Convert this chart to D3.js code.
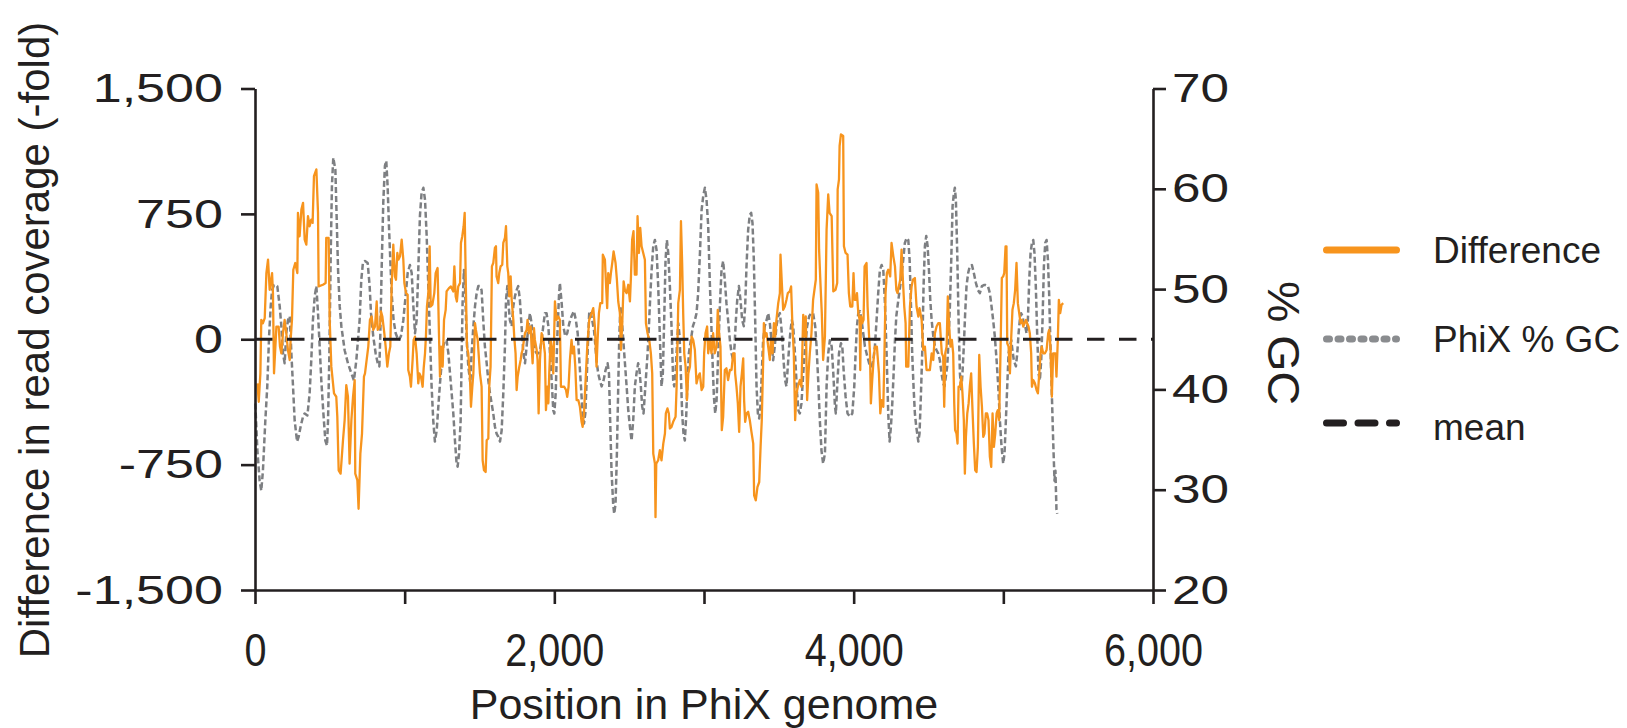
<!DOCTYPE html>
<html lang="en">
<head>
<meta charset="UTF-8">
<title>PhiX read coverage difference and GC</title>
<script src="https://d3js.org/d3.v7.min.js"></script>
<style>
  body { margin:0; background:#fff; }
  svg text { font-family:"Liberation Sans", Arial, Helvetica, sans-serif; fill:#231f20; }
</style>
</head>
<body>
<script>
// difference in read coverage: [position, fold difference]
var diffData = [
[16,-264],[25,-374],[36,-204],[42,116],[53,96],[65,126],[76,396],[87,476],[98,296],[114,396],[120,276],[127,-204],[143,76],[158,76],[167,-44],[176,-84],[187,36],[198,116],[209,36],[220,-64],[232,-124],[238,-4],[247,116],[256,416],[269,456],[283,396],[287,756],[298,616],[310,776],[321,816],[332,596],[343,566],[354,736],[365,676],[376,716],[385,696],[394,976],[410,1016],[421,756],[425,316],[454,326],[472,336],[476,606],[492,606],[499,116],[510,-164],[528,-324],[543,-344],[550,-464],[559,-784],[572,-804],[588,-604],[599,-484],[610,-274],[621,-344],[632,-744],[644,-484],[655,-344],[666,-244],[670,-804],[684,-844],[692,-1014],[704,-684],[715,-564],[728,-224],[735,-204],
[746,-124],[757,-44],[768,116],[779,136],[790,56],[802,76],[813,226],[820,56],[835,76],[842,166],[851,136],[864,36],[873,-44],[884,-164],[895,-84],[904,-44],[913,316],[924,566],[935,376],[942,356],[951,516],[958,476],[969,496],[980,596],[991,476],[998,336],[1009,276],[1020,266],[1024,-184],[1035,-224],[1042,-284],[1053,-124],[1060,-4],[1069,16],[1080,-84],[1091,-264],[1098,-204],[1109,-224],[1120,-284],[1127,-174],[1136,-84],[1142,16],[1149,196],[1158,276],[1167,556],[1174,196],[1185,206],[1198,276],[1207,396],[1220,426],[1229,36],[1236,-224],[1243,-44],[1254,-164],[1263,116],[1274,176],[1280,286],[1296,306],[1309,316],[1325,286],[1332,436],[1341,256],[1349,226],[1358,316],[1370,336],[1376,576],[1385,616],[1394,676],[1401,756],[1407,416],[1416,-44],[1425,-84],[1436,-224],[1443,-404],[1452,-284],[1459,-204],[1470,96],[1476,56],[1488,-4],
[1503,-204],[1514,-284],[1521,-724],[1530,-784],[1541,-794],[1548,-604],[1559,-594],[1565,-284],[1574,-164],[1583,436],[1592,456],[1603,546],[1610,556],[1614,376],[1625,336],[1632,396],[1641,436],[1652,446],[1659,576],[1670,606],[1677,676],[1686,436],[1692,396],[1699,256],[1708,376],[1715,236],[1726,116],[1732,16],[1741,-84],[1748,-304],[1755,-224],[1766,-164],[1775,-124],[1781,-84],[1788,-64],[1797,-4],[1804,36],[1815,56],[1821,116],[1830,36],[1842,76],[1848,-44],[1855,-144],[1864,66],[1870,-4],[1882,-64],[1888,-124],[1895,-444],[1904,-124],[1915,36],[1926,-4],[1937,-84],[1944,-424],[1953,-284],[1960,-384],[1966,-204],[1975,-4],[1982,-44],[1993,-204],[2004,226],[2015,116],[2026,136],[2037,116],[2044,-284],[2055,-284],[2066,-284],[2078,-304],[2086,-344],[2095,-284],[2104,-124],[2115,-4],[2122,-84],[2131,-44],[2140,-164],[2149,-364],[2160,-364],[2171,-404],[2182,-494],[2189,-524],[2198,-444],[2209,-244],[2220,-44],[2233,116],[2249,156],[2260,186],
[2271,76],[2282,-164],[2289,-4],[2298,156],[2307,216],[2320,216],[2324,506],[2338,476],[2344,356],[2353,186],[2360,396],[2371,336],[2378,396],[2387,456],[2396,526],[2409,456],[2418,356],[2427,226],[2438,156],[2445,-64],[2454,96],[2463,346],[2471,296],[2483,276],[2494,326],[2505,226],[2512,376],[2520,596],[2529,646],[2538,386],[2549,386],[2556,736],[2565,516],[2574,666],[2583,556],[2594,516],[2605,476],[2612,96],[2623,36],[2634,-4],[2645,-84],[2654,-204],[2661,-684],[2672,-744],[2676,-1064],[2681,-744],[2694,-724],[2705,-664],[2716,-724],[2728,-624],[2739,-564],[2745,-444],[2756,-414],[2765,-444],[2772,-534],[2783,-524],[2794,-494],[2810,-464],[2817,-284],[2828,216],[2839,296],[2846,706],[2854,456],[2861,156],[2868,-84],[2877,-164],[2886,-364],[2895,-204],[2906,-164],[2917,16],[2928,-4],[2939,-64],[2950,-264],[2961,-224],[2972,-204],[2984,-304],[2995,-284],[3001,-84],[3010,36],[3021,76],[3028,-84],
[3039,-4],[3050,-84],[3061,36],[3072,-84],[3084,-44],[3092,176],[3101,36],[3110,-44],[3119,-544],[3128,-464],[3139,-184],[3150,-174],[3161,-244],[3173,-184],[3184,-184],[3195,-84],[3204,-84],[3208,-204],[3217,-284],[3226,-384],[3235,-554],[3244,-284],[3253,-204],[3262,-114],[3268,-364],[3275,-494],[3284,-444],[3295,-434],[3306,-484],[3317,-554],[3329,-624],[3335,-934],[3346,-964],[3357,-884],[3369,-854],[3378,-644],[3386,-484],[3395,-144],[3400,96],[3409,16],[3418,36],[3429,-44],[3440,-124],[3447,-4],[3458,-84],[3467,96],[3476,16],[3484,116],[3496,216],[3507,276],[3511,506],[3520,336],[3529,176],[3540,196],[3551,236],[3560,276],[3573,286],[3582,316],[3591,76],[3600,-84],[3609,-484],[3618,-324],[3627,-284],[3640,-244],[3651,-284],[3663,146],[3674,16],[3680,136],[3689,-364],[3698,-204],[3707,-84],[3718,36],[3729,236],[3738,296],[3747,356],[3752,926],[3763,876],[3769,536],[3778,336],[3787,156],[3796,-124],
[3808,16],[3819,656],[3830,866],[3839,756],[3853,736],[3864,286],[3879,296],[3890,336],[3893,896],[3902,956],[3906,1156],[3915,1226],[3930,1216],[3935,556],[3946,516],[3959,506],[3968,276],[3977,196],[3991,196],[3999,396],[4006,236],[4015,236],[4022,276],[4031,156],[4040,116],[4044,-184],[4049,136],[4057,96],[4066,116],[4073,436],[4086,456],[4093,196],[4102,36],[4109,-84],[4115,-384],[4124,-244],[4133,-124],[4142,-44],[4155,-44],[4169,-204],[4178,-444],[4187,-364],[4198,-404],[4204,-164],[4213,276],[4222,396],[4231,416],[4244,376],[4253,576],[4265,496],[4276,436],[4285,296],[4293,276],[4302,316],[4311,356],[4320,536],[4329,356],[4338,196],[4347,96],[4351,-164],[4365,-164],[4376,196],[4387,316],[4396,356],[4409,366],[4420,196],[4432,136],[4440,186],[4454,116],[4465,-64],[4476,-44],[4487,-184],[4498,-184],[4509,-184],[4521,-84],[4532,-124],[4543,36],[4554,76],[4565,96],
[4576,96],[4583,-4],[4589,-84],[4598,-104],[4605,-404],[4612,-84],[4621,-44],[4629,256],[4638,76],[4647,-44],[4656,-4],[4665,-84],[4672,-384],[4678,-544],[4687,-564],[4694,-624],[4701,-284],[4710,-284],[4719,-224],[4727,-324],[4736,-484],[4743,-804],[4750,-584],[4759,-444],[4768,-384],[4776,-284],[4785,-204],[4794,-424],[4803,-624],[4812,-784],[4821,-794],[4830,-644],[4839,-94],[4848,-284],[4857,-404],[4866,-584],[4874,-564],[4883,-444],[4892,-444],[4901,-484],[4910,-704],[4919,-764],[4928,-444],[4937,-644],[4946,-564],[4955,-444],[4963,-424],[4972,-484],[4981,-84],[4990,366],[4999,376],[5006,396],[5015,556],[5021,556],[5026,-24],[5035,-44],[5044,-204],[5053,16],[5061,176],[5070,216],[5079,296],[5088,456],[5097,216],[5106,156],[5115,96],[5124,116],[5133,76],[5142,96],[5151,116],[5159,96],[5168,76],[5177,36],[5186,-84],[5191,-284],[5200,-244],[5211,-264],[5222,-304],[5231,-324],[5240,-204],[5249,-84],[5257,-44],[5266,-84],[5278,-84],[5289,-64],[5300,36],[5306,56],[5315,-44],[5324,-344],[5333,-84],[5344,-84],
[5348,-84],[5355,-224],[5364,-4],[5371,236],[5380,156],[5389,206],[5400,216]
];

// PhiX % GC: [position, percent]
var gcData = [
[2,38.6],[16,33.9],[31,30.9],[42,29.9],[53,31.9],[69,36.9],[82,40.3],[94,45.3],[105,48.3],[114,49.9],[127,50.4],[149,50.3],[165,48.3],[176,46.3],[187,43.6],[198,42.6],[209,45.6],[220,46.9],[232,47.3],[243,43.6],[254,40.3],[265,36.9],[281,34.8],[292,35.3],[305,36.3],[321,37.3],[332,37.6],[350,37.4],[365,39.6],[376,42.9],[387,46.9],[399,49.3],[410,50.3],[421,47.6],[432,44.3],[443,40.9],[457,37.6],[470,34.9],[481,34.4],[488,36.9],[497,43.6],[506,53.6],[514,60.3],[523,63.1],[537,61.9],[546,56.9],[555,51.9],[566,48.3],[577,46.3],[599,43.9],[621,42.6],[644,41.6],[661,40.9],[677,42.9],[699,46.9],[710,50.9],[721,52.6],
[735,52.8],[753,52.6],[766,50.3],[775,47.6],[790,45.3],[806,43.6],[820,42.6],[831,42.3],[837,45.3],[846,51.9],[857,58.6],[868,62.3],[877,62.8],[886,60.3],[895,56.3],[904,52.9],[913,49.6],[926,46.9],[940,45.6],[958,44.9],[975,45.3],[991,46.9],[1006,49.3],[1020,51.6],[1035,52.4],[1047,51.6],[1058,48.3],[1069,45.6],[1080,46.9],[1091,51.9],[1102,57.3],[1113,59.6],[1125,60.1],[1136,58.9],[1147,55.3],[1158,50.3],[1169,45.3],[1180,40.3],[1191,36.9],[1202,34.8],[1214,35.9],[1225,38.3],[1236,40.6],[1247,42.6],[1258,44.3],[1269,44.9],[1280,44.9],[1292,43.6],[1303,41.6],[1314,39.6],[1325,37.6],[1336,34.9],[1347,32.6],[1354,32.3],[1363,33.6],[1374,36.9],[1381,43.6],[1387,48.6],[1396,51.9],[1403,50.3],[1414,45.3],[1425,42.3],[1439,40.6],[1447,43.6],[1459,46.3],[1470,48.3],[1481,49.6],[1492,50.3],
[1503,50.3],[1514,49.9],[1525,46.9],[1536,44.3],[1548,42.6],[1559,40.9],[1570,39.6],[1581,38.6],[1592,37.6],[1603,36.3],[1614,35.6],[1625,35.3],[1637,34.8],[1648,35.9],[1659,39.6],[1670,44.3],[1677,48.9],[1686,50.3],[1695,48.3],[1703,46.9],[1715,46.3],[1726,48.3],[1737,49.3],[1748,49.9],[1759,50.3],[1770,48.9],[1781,46.3],[1793,43.6],[1804,42.6],[1815,44.3],[1826,46.3],[1837,47.6],[1848,46.6],[1859,44.9],[1870,43.9],[1882,43.6],[1893,43.6],[1904,43.9],[1915,44.9],[1926,46.3],[1937,47.6],[1948,47.6],[1960,46.3],[1971,43.6],[1982,40.9],[1993,37.9],[2000,37.6],[2009,39.6],[2020,45.3],[2031,49.3],[2037,50.6],[2049,48.6],[2060,46.3],[2073,45.3],[2086,45.6],[2100,46.6],[2115,47.3],[2131,47.8],[2144,46.9],[2156,45.6],[2167,42.9],[2178,40.3],[2189,37.6],[2198,36.6],[2207,37.6],[2216,40.9],[2227,45.6],[2233,47.6],[2242,47.8],[2253,46.9],[2265,45.9],
[2271,44.9],[2282,42.9],[2293,41.6],[2304,40.9],[2316,40.3],[2329,40.9],[2342,41.9],[2356,42.6],[2365,41.6],[2373,36.9],[2382,31.9],[2393,28.6],[2400,27.6],[2409,28.6],[2418,33.6],[2427,40.3],[2434,45.3],[2442,48.3],[2454,46.3],[2467,43.6],[2483,40.3],[2494,37.9],[2505,36.3],[2516,34.9],[2527,36.9],[2538,40.3],[2549,41.6],[2560,42.6],[2569,41.9],[2578,40.3],[2587,38.3],[2596,37.6],[2605,39.6],[2614,41.6],[2623,43.6],[2632,46.3],[2641,49.3],[2650,51.9],[2661,54.3],[2672,54.9],[2683,53.9],[2694,50.3],[2705,45.3],[2716,40.3],[2725,41.6],[2734,46.9],[2743,52.9],[2752,54.9],[2761,53.6],[2772,50.3],[2783,46.3],[2794,40.9],[2801,40.3],[2810,41.6],[2819,44.3],[2828,46.6],[2837,45.3],[2846,41.3],[2854,37.6],[2863,35.6],[2872,34.9],[2881,37.3],[2890,40.9],[2899,43.6],[2912,44.9],[2926,46.3],[2939,46.9],[2950,47.6],[2961,49.6],[2973,53.6],[2984,57.9],[2995,59.3],[3006,60.1],[3017,58.9],[3028,56.3],
[3039,50.6],[3048,46.9],[3057,42.9],[3066,39.3],[3075,37.6],[3084,38.9],[3095,43.6],[3106,48.3],[3117,51.9],[3128,52.8],[3139,50.9],[3150,48.6],[3161,46.9],[3173,44.9],[3184,43.6],[3195,42.9],[3204,44.3],[3213,46.9],[3222,48.9],[3233,50.3],[3244,48.9],[3255,46.9],[3266,46.3],[3275,48.3],[3284,52.3],[3295,55.9],[3306,57.4],[3315,57.6],[3324,56.6],[3333,52.9],[3342,46.9],[3351,40.3],[3360,37.6],[3369,37.1],[3378,38.6],[3386,41.6],[3395,44.9],[3406,46.3],[3418,46.9],[3429,47.6],[3440,46.6],[3451,44.9],[3462,42.9],[3473,44.3],[3484,46.3],[3496,47.3],[3507,47.6],[3516,46.3],[3524,44.9],[3533,42.6],[3542,40.9],[3551,40.3],[3560,42.3],[3569,44.3],[3578,45.9],[3587,46.9],[3596,46.3],[3605,44.3],[3614,41.9],[3622,39.6],[3631,37.9],[3640,37.6],[3651,38.6],[3663,41.6],[3676,44.3],[3689,46.3],[3703,47.3],[3716,47.6],[3729,47.6],[3743,46.3],[3752,44.3],[3763,40.9],[3774,36.9],[3785,33.9],[3796,32.6],
[3808,33.6],[3819,40.3],[3830,43.6],[3841,44.9],[3853,44.3],[3864,41.6],[3875,38.3],[3881,37.6],[3890,40.3],[3902,43.6],[3915,44.6],[3924,44.3],[3933,41.9],[3946,39.3],[3959,37.6],[3975,37.3],[3991,37.6],[4004,40.3],[4013,43.6],[4022,46.3],[4031,47.6],[4042,47.8],[4053,46.9],[4064,45.6],[4075,44.3],[4086,43.6],[4098,42.9],[4109,42.3],[4120,42.3],[4131,42.9],[4142,44.3],[4153,46.9],[4164,49.6],[4175,51.9],[4187,52.4],[4198,51.9],[4209,48.6],[4220,43.6],[4231,37.6],[4240,34.8],[4249,36.3],[4258,38.6],[4267,41.6],[4276,44.9],[4285,47.3],[4293,48.3],[4302,49.3],[4316,50.9],[4331,52.9],[4342,54.6],[4354,55.1],[4365,54.9],[4374,52.9],[4383,48.3],[4391,43.6],[4400,40.3],[4409,37.6],[4418,36.3],[4432,34.8],[4440,35.6],[4449,39.3],[4458,43.6],[4467,50.3],[4476,54.3],[4485,55.3],[4494,54.3],[4503,51.9],[4512,48.9],[4521,46.9],[4532,45.3],[4543,44.3],[4554,43.9],[4565,43.6],
[4576,42.9],[4587,41.6],[4598,40.6],[4607,40.3],[4616,41.3],[4625,42.3],[4634,44.9],[4643,48.3],[4652,52.9],[4661,58.3],[4670,59.6],[4676,60.1],[4683,58.9],[4692,53.6],[4701,46.9],[4710,41.6],[4719,39.9],[4727,41.6],[4736,44.3],[4745,47.6],[4754,50.3],[4765,51.6],[4776,52.3],[4790,52.4],[4803,51.6],[4817,50.6],[4830,49.9],[4843,49.6],[4857,50.3],[4870,50.4],[4883,50.4],[4897,50.3],[4910,49.6],[4921,48.3],[4932,46.9],[4943,45.3],[4955,42.9],[4966,40.3],[4977,36.9],[4988,34.3],[4999,32.6],[5008,33.6],[5017,36.9],[5026,40.3],[5035,43.6],[5044,44.3],[5053,44.9],[5061,43.9],[5070,42.9],[5084,42.3],[5093,43.6],[5102,45.6],[5110,46.9],[5119,47.6],[5128,47.3],[5137,46.6],[5146,46.3],[5155,45.6],[5164,46.9],[5173,50.9],[5182,53.6],[5191,54.6],[5200,54.9],[5208,53.6],[5217,50.3],[5226,45.6],[5235,41.6],[5244,40.9],[5253,42.9],[5262,46.9],[5271,52.3],[5280,54.6],[5289,54.9],[5298,52.9],[5306,49.6],[5315,44.3],[5324,39.6],[5333,34.9],[5342,30.9],
[5348,31.9],[5355,28.0],[5360,27.6]
];

var meanValue = 0;
var xTicks = [0,1000,2000,3000,4000,5000,6000];
var xLabelled = [0,2000,4000,6000];
var yLeftTicks = [-1500,-750,0,750,1500];
var yRightTicks = [20,30,40,50,60,70];
var legendItems = ["Difference","PhiX % GC","mean"];

var width = 1627, height = 728;
var ink = "#231f20", orange = "#f7941d", grey = "#808285";

var svg = d3.select("body").append("svg")
            .attr("width",width).attr("height",height)
            .style("background","#fff");

var xScale = d3.scaleLinear().domain([0,6000]).range([255,1153]);
var yLeft = d3.scaleLinear().domain([-1500,1500]).range([590,88.5]);
var yRight = d3.scaleLinear().domain([20,70]).range([590,88.5]);

var fmt = function(d){ return d3.format(",")(d).replace("\u2212","-"); };

// rescale text horizontally by a factor (reference digits are wider / narrower than Arial)
function widen(sel, k){
    sel.each(function(){
        var len = this.getComputedTextLength();
        if(len > 0) d3.select(this).attr("textLength", len*k).attr("lengthAdjust","spacingAndGlyphs");
    });
}

function styleAxis(g){
    g.select(".domain").attr("stroke",ink).attr("stroke-width",2.6);
    g.selectAll(".tick line").attr("stroke",ink).attr("stroke-width",2.6);
    g.selectAll(".tick text").attr("fill",ink).style("font-family","'Liberation Sans', Arial, sans-serif");
}

// series
var gcLine = d3.line().x(function(d){return xScale(d[0]);}).y(function(d){return yRight(d[1]);});
var diffLine = d3.line().x(function(d){return xScale(d[0]);}).y(function(d){return yLeft(d[1]);});

svg.append("path").attr("d",gcLine(gcData))
   .attr("fill","none").attr("stroke","#7d7f82").attr("stroke-width",2.5)
   .attr("stroke-dasharray","6,3").attr("stroke-linejoin","round");

svg.append("path").attr("d",diffLine(diffData))
   .attr("fill","none").attr("stroke",orange).attr("stroke-width",2.3)
   .attr("stroke-linejoin","round");

svg.append("line")
   .attr("x1",xScale(0)).attr("x2",xScale(6000))
   .attr("y1",yLeft(meanValue)).attr("y2",yLeft(meanValue))
   .attr("stroke",ink).attr("stroke-width",3).attr("stroke-dasharray","17.5,14.5");

// axes
var xAxis = d3.axisBottom(xScale).tickValues(xTicks).tickSize(14).tickSizeOuter(0).tickPadding(29)
              .tickFormat(function(d){ return xLabelled.indexOf(d) >= 0 ? fmt(d) : ""; });
var yAxisL = d3.axisLeft(yLeft).tickValues(yLeftTicks).tickSize(14).tickSizeOuter(0).tickPadding(18).tickFormat(fmt);
var yAxisR = d3.axisRight(yRight).tickValues(yRightTicks).tickSize(13).tickSizeOuter(0).tickPadding(6);

var gx = svg.append("g").attr("transform","translate(0,590)").call(xAxis);
var gl = svg.append("g").attr("transform","translate(255,0)").call(yAxisL);
var gr = svg.append("g").attr("transform","translate(1153,0)").call(yAxisR);
[gx,gl,gr].forEach(styleAxis);

gx.selectAll(".tick text").attr("font-size",46);
gl.selectAll(".tick text").attr("font-size",41);
gr.selectAll(".tick text").attr("font-size",41);
widen(gx.selectAll(".tick text"), 0.86);
widen(gl.selectAll(".tick text"), 1.27);
widen(gr.selectAll(".tick text"), 1.25);

// axis titles
svg.append("text").attr("transform","translate(49,340) rotate(-90)")
   .attr("text-anchor","middle").attr("font-size",42)
   .text("Difference in read coverage (-fold)");

svg.append("text").attr("x",704).attr("y",719)
   .attr("text-anchor","middle").attr("font-size",43)
   .text("Position in PhiX genome");

svg.append("text").attr("transform","translate(1268,343) rotate(90)")
   .attr("text-anchor","middle").attr("font-size",44)
   .attr("textLength",124).attr("lengthAdjust","spacingAndGlyphs")
   .text("% GC");

// legend
var legY = [250,339,423];
var leg = svg.append("g");
legendItems.forEach(function(name,i){
    var y = legY[i];
    var ln = leg.append("line").attr("x1",1326.5).attr("x2",1396.5).attr("y1",y).attr("y2",y)
                .attr("stroke-width",7).attr("stroke-linecap","round");
    if(i === 0) ln.attr("stroke",orange);
    if(i === 1) ln.attr("stroke","#8a8c8f").attr("stroke-dasharray","3,8.5");
    if(i === 2) ln.attr("stroke",ink).attr("stroke-dasharray","17,14.5");
    leg.append("text").attr("x",1433).attr("y", i === 2 ? 440 : y+13.4)
       .attr("font-size",37).text(name);
});
</script>
</body>
</html>
